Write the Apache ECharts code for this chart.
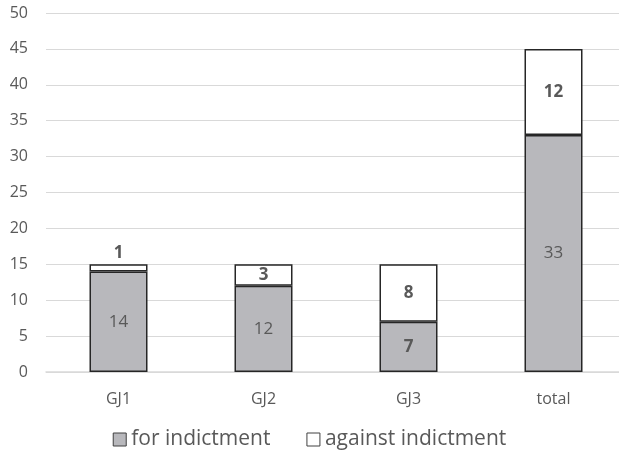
<!DOCTYPE html>
<html>
<head>
<meta charset="utf-8">
<script src="https://cdn.jsdelivr.net/npm/echarts@6/dist/echarts.min.js"></script>
<style>
  html, body { margin: 0; padding: 0; background: #fff; }
  #chart { width: 619px; height: 458px; }
</style>
</head>
<body>
<div id="chart"></div>
<script>
// data
const categories = ['GJ1', 'GJ2', 'GJ3', 'total']
const forIndictment = [14, 12, 7, 33]
const againstIndictment = [1, 3, 8, 12]
const yTicks = [0, 5, 10, 15, 20, 25, 30, 35, 40, 45, 50]

const textColor = '#595959'
const font = 'Open Sans, Noto Sans, sans-serif'

const chart = echarts.init(document.getElementById('chart'))

const option = {
  animation: false,
  grid: { left: 46, width: 580, top: 13, bottom: 86, outerBoundsMode: 'none', containLabel: false },
  legend: {
    bottom: 3,
    left: 'center',
    icon: 'rect',
    itemWidth: 13,
    itemHeight: 13,
    itemGap: 36,
    textStyle: { color: textColor, fontSize: 21, fontFamily: font },
    data: [
      { name: 'for indictment', itemStyle: { borderColor: '#404040', borderWidth: 1 } },
      { name: 'against indictment', itemStyle: { borderColor: '#404040', borderWidth: 1 } }
    ]
  },
  xAxis: {
    type: 'category',
    data: categories,
    axisLine: { lineStyle: { color: '#d9d9d9', width: 1.5 } },
    axisTick: { show: false },
    axisLabel: { color: textColor, fontSize: 16, fontFamily: font, margin: 19 }
  },
  yAxis: {
    type: 'value',
    min: yTicks[0],
    max: yTicks[yTicks.length - 1],
    interval: 5,
    axisLine: { show: false },
    axisTick: { show: false },
    splitLine: { lineStyle: { color: '#d9d9d9', width: 1 } },
    axisLabel: { color: textColor, fontSize: 16, fontFamily: font, margin: 18 }
  },
  series: [
    {
      name: 'for indictment',
      type: 'bar',
      stack: 'a',
      barWidth: '40%',
      data: forIndictment.map((v, i) => ({
        value: v,
        label: { fontWeight: categories[i] === 'GJ3' ? 'bold' : 'normal' }
      })),
      itemStyle: { color: '#b8b8bc', borderColor: '#262626', borderWidth: 1.5 },
      label: { show: true, position: 'inside', color: textColor, fontSize: 17, fontFamily: font }
    },
    {
      name: 'against indictment',
      type: 'bar',
      stack: 'a',
      barWidth: '40%',
      data: againstIndictment.map(v => ({
        value: v,
        label: { position: v < 2 ? 'top' : 'inside', distance: 3 }
      })),
      itemStyle: { color: '#ffffff', borderColor: '#262626', borderWidth: 1.5 },
      label: { show: true, color: textColor, fontSize: 17, fontWeight: 'bold', fontFamily: font }
    }
  ]
}

chart.setOption(option)
</script>
</body>
</html>
